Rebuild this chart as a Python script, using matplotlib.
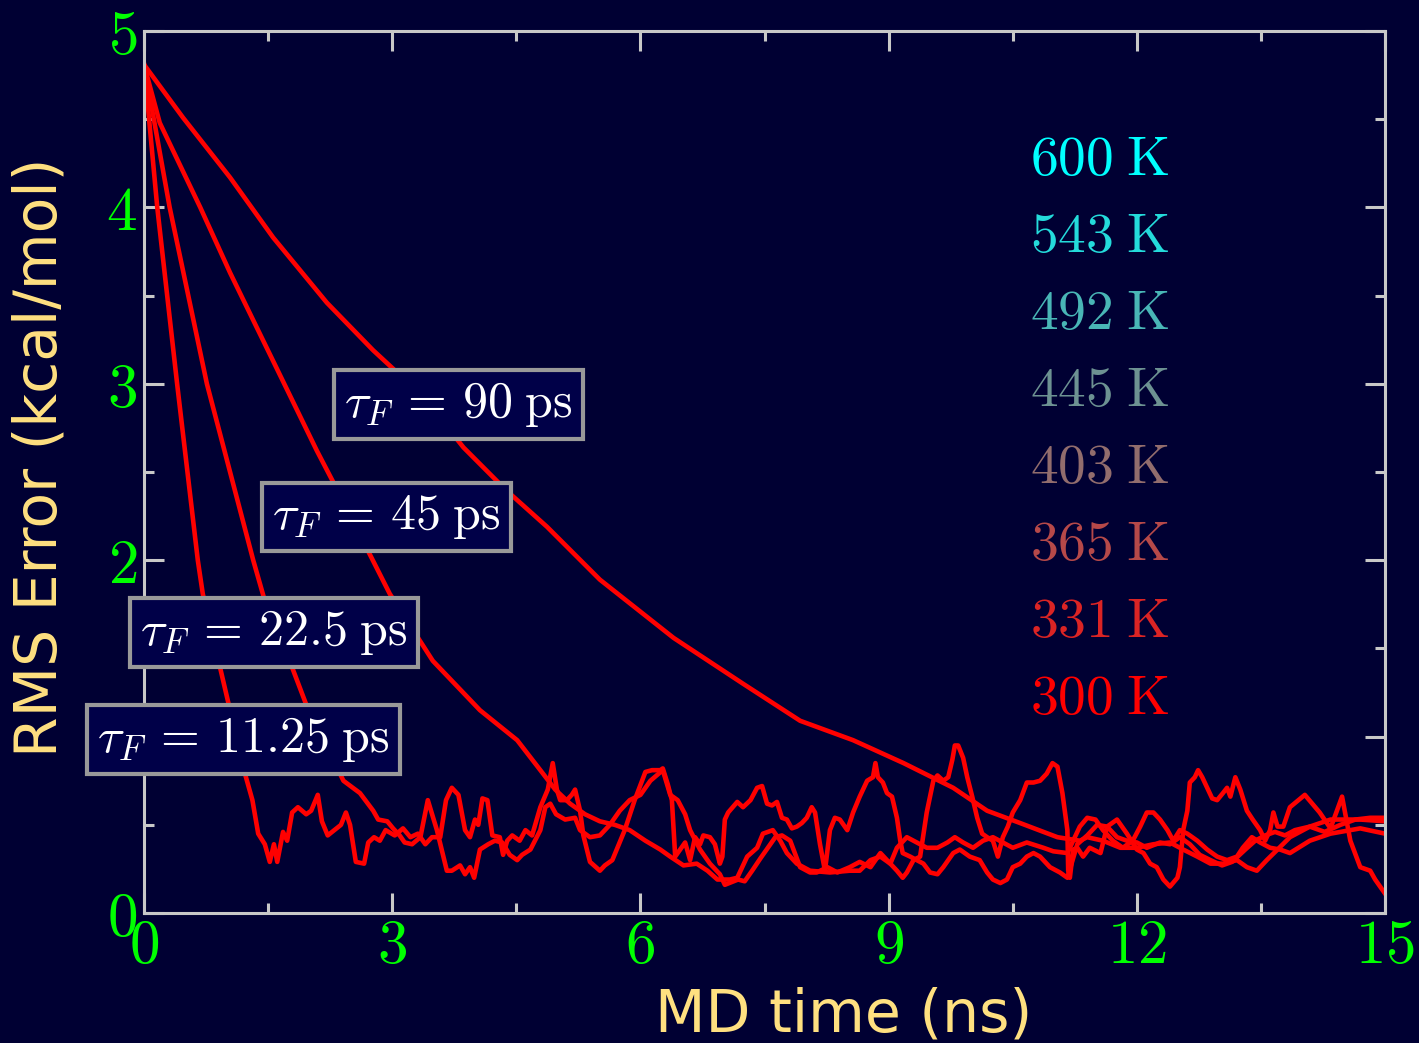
import numpy as np
import matplotlib
matplotlib.use("Agg")
import matplotlib.pyplot as plt
from matplotlib.ticker import MultipleLocator, FuncFormatter

# RMS error vs MD time for four friction time constants
t_1125 = [0, 0.16, 0.40, 0.65, 0.71, 1.02, 1.22, 1.31, 1.38, 1.46,
          1.52, 1.57, 1.61, 1.68, 1.73, 1.79, 1.86, 1.96, 2.02, 2.10,
          2.15, 2.22, 2.30, 2.38, 2.44, 2.49, 2.56, 2.66, 2.71, 2.78,
          2.85, 2.92, 3.03, 3.13, 3.22, 3.31, 3.40, 3.48, 3.58, 3.65,
          3.72, 3.80, 3.88, 3.94, 4.00, 4.04, 4.09, 4.15, 4.21, 4.30,
          4.34, 4.39, 4.45, 4.54, 4.61, 4.69, 4.79, 4.88, 4.94, 4.99,
          5.03, 5.11, 5.17, 5.21, 5.27, 5.31, 5.39, 5.51, 5.57, 5.66,
          5.81, 5.93, 6.06, 6.14, 6.24, 6.27, 6.33, 6.38, 6.42, 6.48,
          6.54, 6.60, 6.66, 6.72, 6.76, 6.84, 6.90, 6.96, 6.99, 7.02,
          7.06, 7.17, 7.24, 7.33, 7.41, 7.47, 7.53, 7.59, 7.65, 7.71,
          7.77, 7.83, 7.89, 7.95, 8.01, 8.07, 8.11, 8.17, 8.23, 8.29,
          8.35, 8.41, 8.50, 8.57, 8.65, 8.74, 8.81, 8.84, 8.87, 8.93,
          8.98, 9.04, 9.10, 9.14, 9.17, 9.26, 9.34, 9.42, 9.50, 9.59,
          9.66, 9.78, 9.86, 9.98, 10.10, 10.19, 10.26, 10.35, 10.43, 10.50,
          10.59, 10.67, 10.75, 10.83, 10.95, 11.07, 11.16, 11.28, 11.40, 11.52,
          11.64, 11.76, 11.88, 12.00, 12.12, 12.28, 12.40, 12.52, 12.64, 12.76,
          12.89, 13.03, 13.15, 13.31, 13.43, 13.55, 13.67, 13.79, 13.91, 14.09,
          14.27, 14.46, 14.64, 14.82, 15.0]
rms_1125 = [4.81, 4.0, 3.0, 2.0, 1.81, 1.19, 0.79, 0.64, 0.45, 0.39,
            0.29, 0.39, 0.29, 0.46, 0.41, 0.57, 0.60, 0.56, 0.58, 0.67,
            0.52, 0.44, 0.47, 0.50, 0.57, 0.50, 0.29, 0.28, 0.40, 0.43,
            0.41, 0.47, 0.44, 0.48, 0.43, 0.45, 0.39, 0.43, 0.43, 0.64,
            0.71, 0.67, 0.47, 0.43, 0.53, 0.50, 0.65, 0.64, 0.44, 0.43,
            0.33, 0.41, 0.44, 0.41, 0.47, 0.44, 0.60, 0.70, 0.85, 0.70,
            0.64, 0.64, 0.67, 0.70, 0.58, 0.44, 0.29, 0.24, 0.27, 0.30,
            0.47, 0.64, 0.80, 0.81, 0.81, 0.82, 0.73, 0.64, 0.32, 0.36,
            0.40, 0.30, 0.43, 0.39, 0.44, 0.43, 0.39, 0.28, 0.32, 0.53,
            0.57, 0.63, 0.60, 0.64, 0.71, 0.72, 0.62, 0.61, 0.63, 0.54,
            0.53, 0.48, 0.49, 0.51, 0.54, 0.60, 0.57, 0.39, 0.24, 0.47,
            0.54, 0.53, 0.47, 0.57, 0.66, 0.75, 0.77, 0.85, 0.77, 0.74,
            0.68, 0.66, 0.54, 0.41, 0.34, 0.32, 0.30, 0.28, 0.23, 0.22,
            0.26, 0.34, 0.36, 0.32, 0.30, 0.23, 0.19, 0.17, 0.19, 0.26,
            0.28, 0.32, 0.34, 0.32, 0.26, 0.23, 0.20, 0.39, 0.44, 0.50,
            0.49, 0.43, 0.41, 0.40, 0.37, 0.40, 0.39, 0.43, 0.39, 0.33,
            0.30, 0.27, 0.29, 0.36, 0.41, 0.44, 0.46, 0.44, 0.47, 0.49,
            0.46, 0.50, 0.53, 0.54, 0.54]

t_225 = [0, 0.31, 0.76, 1.32, 1.46, 1.80, 1.97, 2.41, 2.61, 2.77, 2.83,
         2.94, 3.01, 3.09, 3.15, 3.24, 3.34, 3.43, 3.54, 3.66, 3.72,
         3.82, 3.88, 3.94, 3.99, 4.06, 4.16, 4.24, 4.33, 4.42, 4.51,
         4.57, 4.67, 4.79, 4.85, 4.91, 4.98, 5.09, 5.21, 5.27, 5.39,
         5.51, 5.63, 5.75, 5.87, 6.00, 6.12, 6.27, 6.36, 6.45, 6.54,
         6.60, 6.72, 6.84, 6.96, 7.02, 7.18, 7.26, 7.35, 7.45, 7.54,
         7.63, 7.71, 7.81, 7.93, 8.05, 8.13, 8.26, 8.38, 8.53, 8.65,
         8.78, 8.90, 9.02, 9.10, 9.22, 9.34, 9.46, 9.59, 9.71, 9.80,
         9.90, 10.02, 10.14, 10.26, 10.38, 10.50, 10.67, 10.87, 10.99, 11.16,
         11.31, 11.40, 11.50, 11.59, 11.71, 11.83, 11.95, 12.04, 12.12, 12.20,
         12.28, 12.37, 12.44, 12.52, 12.61, 12.73, 12.85, 12.97, 13.09, 13.21,
         13.28, 13.39, 13.49, 13.61, 13.73, 13.85, 14.09, 14.34, 14.70, 15.0]
rms_225 = [4.81, 4.0, 3.0, 2.0, 1.77, 1.38, 1.17, 0.75, 0.68, 0.58, 0.53,
           0.52, 0.48, 0.44, 0.40, 0.39, 0.43, 0.64, 0.47, 0.24, 0.24,
           0.27, 0.22, 0.26, 0.20, 0.36, 0.39, 0.41, 0.40, 0.33, 0.30,
           0.33, 0.36, 0.47, 0.60, 0.62, 0.56, 0.53, 0.54, 0.47, 0.43,
           0.44, 0.50, 0.58, 0.64, 0.67, 0.75, 0.81, 0.67, 0.64, 0.56,
           0.47, 0.36, 0.28, 0.22, 0.16, 0.19, 0.18, 0.24, 0.31, 0.37,
           0.43, 0.44, 0.41, 0.26, 0.23, 0.23, 0.26, 0.23, 0.26, 0.29,
           0.26, 0.34, 0.28, 0.37, 0.43, 0.40, 0.37, 0.37, 0.40, 0.43,
           0.40, 0.37, 0.41, 0.43, 0.40, 0.37, 0.40, 0.37, 0.35, 0.34,
           0.49, 0.54, 0.53, 0.47, 0.41, 0.37, 0.41, 0.49, 0.57, 0.57,
           0.53, 0.47, 0.41, 0.47, 0.45, 0.41, 0.36, 0.32, 0.30, 0.32,
           0.37, 0.43, 0.40, 0.37, 0.36, 0.34, 0.41, 0.45, 0.48, 0.45]

t_45 = [0, 0.19, 0.68, 1.04, 1.56, 2.09, 2.29, 2.97, 3.49, 4.06, 4.51,
        4.79, 4.97, 5.15, 5.33, 5.51, 5.69, 5.87, 6.06, 6.24, 6.36,
        6.52, 6.68, 6.81, 6.93, 7.08, 7.17, 7.29, 7.41, 7.48, 7.60,
        7.69, 7.77, 7.89, 8.05, 8.29, 8.53, 8.65, 8.78, 8.90, 9.02,
        9.10, 9.17, 9.22, 9.30, 9.38, 9.46, 9.50, 9.54, 9.59, 9.66,
        9.72, 9.77, 9.80, 9.84, 9.90, 9.95, 10.01, 10.07, 10.13, 10.19,
        10.26, 10.32, 10.38, 10.44, 10.50, 10.59, 10.67, 10.75, 10.83, 10.91,
        10.98, 11.04, 11.10, 11.16, 11.17, 11.19, 11.23, 11.28, 11.35, 11.43,
        11.56, 11.64, 11.76, 11.88, 12.00, 12.08, 12.16, 12.24, 12.32, 12.40,
        12.49, 12.52, 12.56, 12.61, 12.64, 12.70, 12.74, 12.79, 12.85, 12.91,
        12.97, 13.04, 13.09, 13.13, 13.19, 13.25, 13.33, 13.40, 13.49, 13.55,
        13.61, 13.65, 13.70, 13.77, 13.85, 14.03, 14.21, 14.34, 14.48, 14.58,
        14.70, 14.82, 14.88, 15.0]
rms_45 = [4.81, 4.48, 4.0, 3.63, 3.13, 2.62, 2.44, 1.81, 1.43, 1.15, 0.98,
          0.81, 0.70, 0.62, 0.56, 0.52, 0.50, 0.47, 0.41, 0.36, 0.32,
          0.27, 0.28, 0.24, 0.19, 0.19, 0.20, 0.32, 0.37, 0.45, 0.47,
          0.41, 0.34, 0.28, 0.24, 0.23, 0.24, 0.24, 0.30, 0.32, 0.28,
          0.24, 0.20, 0.23, 0.30, 0.32, 0.57, 0.66, 0.75, 0.78, 0.75,
          0.77, 0.87, 0.95, 0.95, 0.88, 0.77, 0.66, 0.54, 0.45, 0.43,
          0.41, 0.32, 0.43, 0.49, 0.57, 0.64, 0.74, 0.74, 0.75, 0.79,
          0.85, 0.83, 0.68, 0.47, 0.24, 0.20, 0.36, 0.37, 0.32, 0.37,
          0.34, 0.49, 0.53, 0.45, 0.36, 0.34, 0.28, 0.26, 0.19, 0.15,
          0.20, 0.26, 0.47, 0.58, 0.74, 0.77, 0.81, 0.77, 0.71, 0.65,
          0.64, 0.68, 0.71, 0.66, 0.77, 0.70, 0.58, 0.53, 0.47, 0.41,
          0.47, 0.57, 0.49, 0.49, 0.60, 0.67, 0.57, 0.48, 0.66, 0.41,
          0.26, 0.24, 0.19, 0.11]

t_90 = [0, 0.47, 1.04, 1.56, 2.21, 2.77, 3.37, 3.86, 4.37, 4.87, 5.51,
        6.40, 7.24, 7.93, 8.57, 9.18, 9.78, 10.19, 10.59, 11.04, 11.31,
        11.40, 11.59, 11.80, 12.00, 12.20, 12.40, 12.56, 12.73, 12.89, 13.04,
        13.21, 13.33, 13.45, 13.57, 13.70, 13.85, 14.09, 14.34, 14.70, 15.0]
rms_90 = [4.81, 4.51, 4.17, 3.83, 3.46, 3.19, 2.93, 2.64, 2.40, 2.19, 1.89,
          1.56, 1.30, 1.09, 0.98, 0.85, 0.71, 0.58, 0.51, 0.43, 0.41,
          0.43, 0.41, 0.37, 0.37, 0.39, 0.40, 0.36, 0.32, 0.28, 0.28,
          0.30, 0.26, 0.24, 0.30, 0.36, 0.43, 0.49, 0.53, 0.53, 0.52]

tau_labels = ['90', '45', '22.5', '11.25']
temperatures = [600, 543, 492, 445, 403, 365, 331, 300]

plt.rcParams['mathtext.fontset'] = 'cm'

bg = '#000033'
frame = '#c8c8c8'

fig = plt.figure(figsize=(14.19, 10.43), dpi=100, facecolor=bg)
ax = fig.add_axes([0.1015, 0.1246, 0.8746, 0.8456], facecolor=bg)

for t, r in [(t_90, rms_90), (t_45, rms_45), (t_225, rms_225), (t_1125, rms_1125)]:
    ax.plot(t, r, color='red', lw=3.3)

ax.set_xlim(0, 15)
ax.set_ylim(0, 5)
ax.xaxis.set_major_locator(MultipleLocator(3))
ax.xaxis.set_minor_locator(MultipleLocator(1.5))
ax.yaxis.set_major_locator(MultipleLocator(1))
ax.yaxis.set_minor_locator(MultipleLocator(0.5))
fmt = FuncFormatter(lambda v, p: r'$%d$' % round(v))
ax.xaxis.set_major_formatter(fmt)
ax.yaxis.set_major_formatter(fmt)

for s in ax.spines.values():
    s.set_color(frame)
    s.set_linewidth(2.2)
ax.tick_params(which='both', direction='in', top=True, right=True,
               color=frame, width=2.2, labelcolor='#00ff00', labelsize=44)
ax.tick_params(which='major', length=14.5)
ax.tick_params(which='minor', length=7.2)
ax.tick_params(axis='x', pad=3)
ax.tick_params(axis='y', pad=5)

ax.set_xlabel('MD time (ns)', color='#ffe080', fontsize=42, va='center')
ax.xaxis.set_label_coords(0.564, -0.116)
ax.set_ylabel('RMS Error (kcal/mol)', color='#ffe080', fontsize=42, va='center')
ax.yaxis.set_label_coords(-0.084, 0.517)

# friction time constant tags
tau_pos = [(3.80, 2.885), (2.93, 2.245), (1.57, 1.593), (1.20, 0.986)]
for lab, (x, y) in zip(tau_labels, tau_pos):
    ax.text(x, y, r'$\tau_F\, =\, %s\;\mathrm{ps}$' % lab, color='white',
            fontsize=36, ha='center', va='center',
            bbox=dict(boxstyle='square,pad=0.2', fc='#000048', ec='#999999', lw=3))

# temperature ladder, cyan (hot) to red (cold)
hot = np.array([0.0, 1.0, 1.0])
cold = np.array([1.0, 0.0, 0.0])
for i, T in enumerate(temperatures):
    c = hot + (cold - hot) * i / (len(temperatures) - 1)
    ax.text(10.71, 4.184 - 0.4365 * i, r'$%d\;\mathrm{K}$' % T, color=tuple(c),
            fontsize=40, ha='left', va='baseline')

fig.savefig('out.png', dpi=100, facecolor=bg)
